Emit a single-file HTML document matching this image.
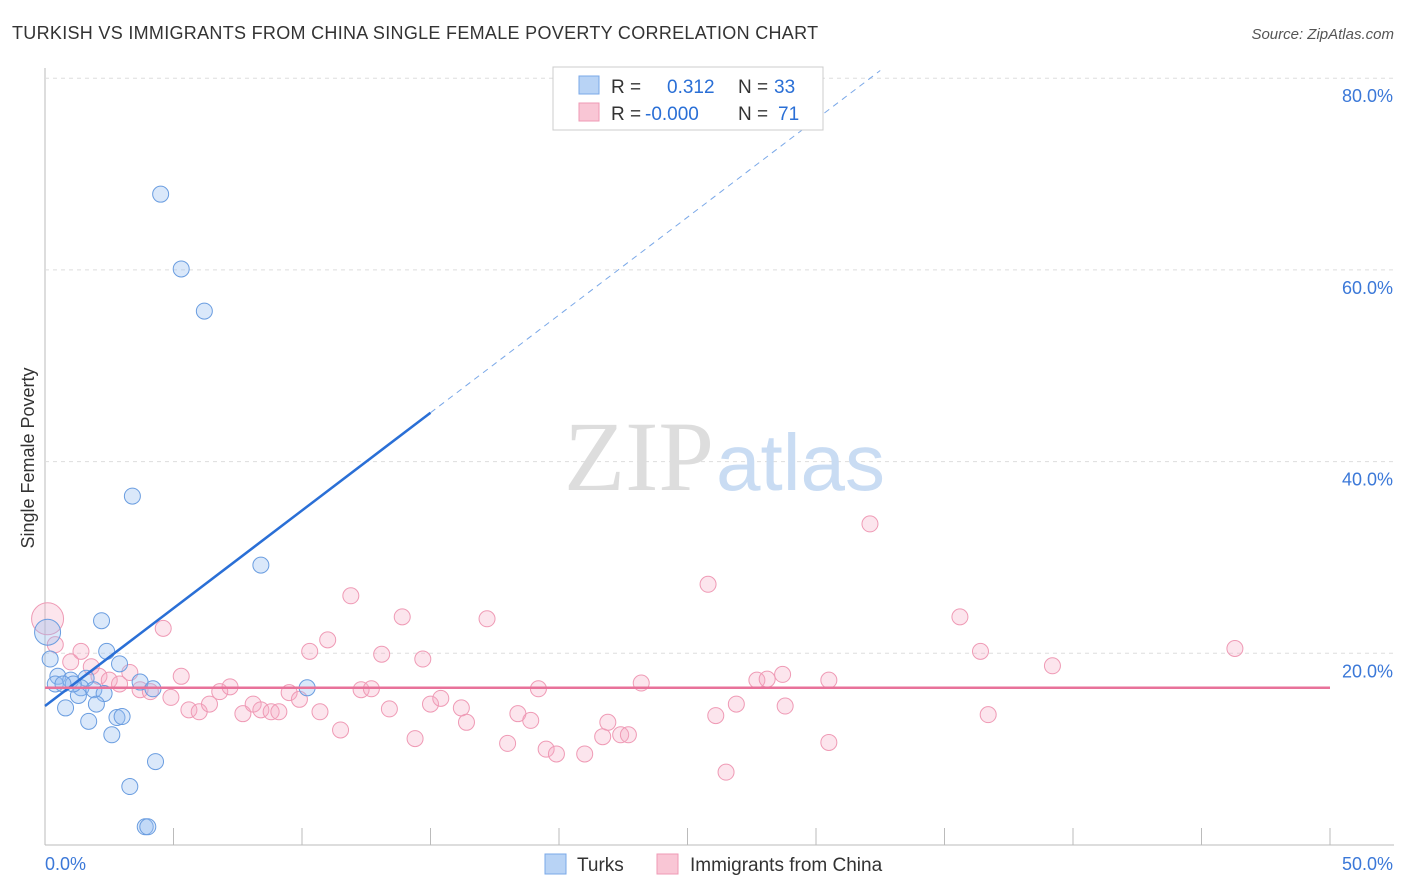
<!DOCTYPE html>
<html><head><meta charset="utf-8"><style>
body{margin:0;background:#fff;font-family:"Liberation Sans",sans-serif}
svg{display:block}
</style></head><body>
<svg id="chart" width="1406" height="892">
<text x="12" y="39" font-size="18" fill="#333" letter-spacing="0.3">TURKISH VS IMMIGRANTS FROM CHINA SINGLE FEMALE POVERTY CORRELATION CHART</text>
<text x="1394" y="39" font-size="15" fill="#555" text-anchor="end" font-style="italic">Source: ZipAtlas.com</text>
<g id="grid"></g>
<text x="714" y="490" font-size="100" fill="#ddd" text-anchor="end" font-family="Liberation Serif">ZIP</text>
<text x="716" y="490" font-size="80" fill="#c9dcf3">atlas</text>
<text x="34" y="458" font-size="18" fill="#333" text-anchor="middle" transform="rotate(-90 34 458)">Single Female Poverty</text>
<g id="marks"></g>
<g>
<rect x="553" y="67" width="270" height="63" fill="#fff" stroke="#ccc"/>
<rect x="579" y="76" width="20" height="18" fill="#b8d3f5" stroke="#7aa8e8"/>
<rect x="579" y="103" width="20" height="18" fill="#f9c6d5" stroke="#ef9ab5"/>
<text x="611" y="93" font-size="19" fill="#333">R = </text><text x="667" y="93" font-size="19" fill="#2a6fd6">0.312</text>
<text x="738" y="93" font-size="19" fill="#333">N = </text><text x="774" y="93" font-size="19" fill="#2a6fd6">33</text>
<text x="611" y="120" font-size="19" fill="#333">R = </text><text x="645" y="120" font-size="19" fill="#2a6fd6">-0.000</text>
<text x="738" y="120" font-size="19" fill="#333">N = </text><text x="778" y="120" font-size="19" fill="#2a6fd6">71</text>
</g>
<g>
<rect x="545" y="854" width="21" height="20" fill="#b8d3f5" stroke="#7aa8e8"/>
<text x="577" y="871" font-size="19" fill="#333">Turks</text>
<rect x="657" y="854" width="21" height="20" fill="#f9c6d5" stroke="#ef9ab5"/>
<text x="690" y="871" font-size="19" fill="#333">Immigrants from China</text>
</g>
</svg>
<script>
const xTicks=[0,5,10,15,20,25,30,35,40,45,50];
const yTicks=[20,40,60,80];
const turksX=[4.5,5.3,6.2,3.4,8.4,2.2,2.4,2.9,3.7,4.2,10.2,0.5,1.0,1.6,1.4,1.9,2.3,1.3,0.8,2.0,2.8,3.0,1.7,2.6,4.3,3.3,3.9,4.0,0.1,0.2,0.4,1.1,0.7];
const turksY=[67.9,60.1,55.7,36.4,29.2,23.4,20.2,18.9,17.0,16.3,16.4,17.6,17.2,17.4,16.4,16.2,15.8,15.6,14.3,14.7,13.3,13.4,12.9,11.5,8.7,6.1,1.9,1.9,22.2,19.4,16.8,16.8,16.8];
const chinaX=[0.1,0.4,1.0,1.4,1.8,2.1,2.5,2.9,3.3,3.7,4.1,4.6,4.9,5.3,5.6,6.0,6.4,6.8,7.2,7.7,8.1,8.4,8.8,9.1,9.5,9.9,10.3,10.7,11.0,11.5,11.9,12.3,12.7,13.1,13.4,13.9,14.4,14.7,15.0,15.4,16.2,16.4,17.2,18.0,18.4,18.9,19.2,19.5,19.9,21.0,21.7,21.9,22.4,22.7,23.2,25.8,26.1,26.5,26.9,27.7,28.1,28.7,28.8,30.5,30.5,32.1,35.6,36.4,36.7,39.2,46.3];
const chinaY=[23.6,20.9,19.1,20.2,18.6,17.6,17.2,16.8,18.0,16.2,16.0,22.6,15.4,17.6,14.1,13.9,14.7,16.0,16.5,13.7,14.7,14.1,13.9,13.9,15.9,15.2,20.2,13.9,21.4,12.0,26.0,16.2,16.3,19.9,14.2,23.8,11.1,19.4,14.7,15.3,14.3,12.8,23.6,10.6,13.7,13.0,16.3,10.0,9.5,9.5,11.3,12.8,11.5,11.5,16.9,27.2,13.5,7.6,14.7,17.2,17.3,17.8,14.5,10.7,17.2,33.5,23.8,20.2,13.6,18.7,20.5];
const turksTrend=[0,14.5,15,45.1];
const chinaTrend=[0,16.4,50,16.4];
const X=v=>45+v*25.7, Y=v=>845-v*9.585;
const NS='http://www.w3.org/2000/svg';
const grid=document.getElementById('grid'), marks=document.getElementById('marks');
function mk(tag,attrs,parent){const e=document.createElementNS(NS,tag);for(const k in attrs)e.setAttribute(k,attrs[k]);parent.appendChild(e);return e;}
mk('line',{x1:45,y1:68,x2:45,y2:845,stroke:'#bbb'},grid);
mk('line',{x1:45,y1:845,x2:1394,y2:845,stroke:'#bbb'},grid);
yTicks.forEach(t=>{
 const l=mk('line',{x1:45,y1:Y(t),x2:1394,y2:Y(t),stroke:'#ddd','stroke-dasharray':'4,4'},grid);
 
 
 const tx=mk('text',{x:1393,y:Y(t)+24,'font-size':18,fill:'#3b78d8','text-anchor':'end'},grid);
 tx.textContent=t.toFixed(1)+'%';
 
 
});
xTicks.forEach(t=>{
 const l=mk('line',{x1:X(t),y1:828,x2:X(t),y2:845,stroke:'#bbb'},grid);
 
 
});
[[0,'start',45],[50,'end',1393]].forEach(([v,a,x])=>{
 const tx=mk('text',{x:x,y:870,'font-size':18,fill:'#3b78d8','text-anchor':a},grid);
 tx.textContent=v.toFixed(1)+'%';
 
 
});
chinaX.forEach((v,i)=>{
 const c=mk('circle',{cx:X(v),cy:Y(chinaY[i]),r:i==0?16:8,fill:'rgba(246,170,195,0.3)',stroke:'#ef9ab5','stroke-width':1},marks);
 
 
});
turksX.forEach((v,i)=>{
 const c=mk('circle',{cx:X(v),cy:Y(turksY[i]),r:i==28?13:8,fill:'rgba(150,190,240,0.35)',stroke:'#6a9de0','stroke-width':1},marks);
 
 
});
const t=turksTrend, slope=(t[3]-t[1])/(t[2]-t[0]);
const l1=mk('line',{x1:X(t[0]),y1:Y(t[1]),x2:X(t[2]),y2:Y(t[3]),stroke:'#2a6fd6','stroke-width':2.5},marks);


const xe=(80.8-t[1])/slope;
const l2=mk('line',{x1:X(t[2]),y1:Y(t[3]),x2:X(xe),y2:Y(t[1]+slope*xe),stroke:'#7aa8e8','stroke-width':1,'stroke-dasharray':'6,5'},marks);


const c=chinaTrend;
const l3=mk('line',{x1:X(c[0]),y1:Y(c[1]),x2:X(c[2]),y2:Y(c[3]),stroke:'#e8729a','stroke-width':2.5},marks);


</script>
</body></html>
